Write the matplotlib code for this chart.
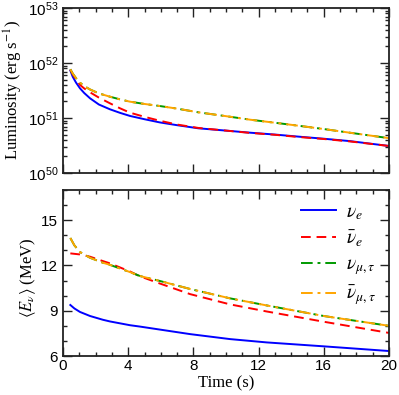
import matplotlib
matplotlib.use("Agg")
import matplotlib.pyplot as plt
from matplotlib.ticker import MultipleLocator, LogLocator, FuncFormatter, NullFormatter
import numpy as np

plt.rcParams['font.family'] = ['Liberation Sans', 'DejaVu Sans']
plt.rcParams['mathtext.fontset'] = 'stix'

# ---------------- data ----------------
# luminosity (units of 1e51 erg/s)
time_lum = [0.45, 0.6, 0.8, 1.04, 1.3, 1.66, 2.2, 2.88, 3.5, 4.11, 5, 5.95, 7, 8.3, 10, 11.5, 13, 14.5, 16, 17.6, 20]
lum_nue = [7.3, 5.6, 4.4, 3.47, 2.85, 2.28, 1.76, 1.44, 1.24, 1.09, 0.95, 0.83, 0.74, 0.65, 0.59, 0.54, 0.50, 0.457, 0.42, 0.38, 0.31]
lum_nuebar = [7.5, 6.2, 5.0, 4.0, 3.45, 2.93, 2.35, 1.85, 1.5, 1.25, 1.05, 0.89, 0.76, 0.66, 0.59, 0.535, 0.495, 0.45, 0.415, 0.375, 0.31]
lum_nux = [7.7, 6.4, 5.3, 4.4, 3.8, 3.3, 2.8, 2.44, 2.18, 1.98, 1.8, 1.65, 1.48, 1.27, 1.08, 0.93, 0.82, 0.72, 0.63, 0.54, 0.43]
lum_nuxbar = [7.7, 6.4, 5.3, 4.4, 3.8, 3.3, 2.8, 2.44, 2.18, 1.98, 1.8, 1.65, 1.48, 1.27, 1.08, 0.93, 0.82, 0.72, 0.63, 0.54, 0.43]

# mean energies (MeV)
time_e = [0.45, 0.7, 1.04, 1.66, 2.45, 2.88, 4.11, 4.72, 5.95, 7.8, 10.25, 12.5, 16, 20]
e_nue = [9.38, 9.15, 8.92, 8.65, 8.4, 8.29, 8.04, 7.95, 7.75, 7.45, 7.12, 6.9, 6.64, 6.33]
e_nuebar = [12.8, 12.77, 12.73, 12.58, 12.29, 12.14, 11.6, 11.28, 10.8, 10.1, 9.42, 8.95, 8.27, 7.53]
e_nux = [13.82, 13.33, 12.89, 12.51, 12.18, 12.04, 11.56, 11.3, 10.97, 10.44, 9.82, 9.35, 8.65, 8.0]
e_nuxbar = [13.82, 13.33, 12.89, 12.51, 12.18, 12.04, 11.56, 11.3, 10.97, 10.44, 9.82, 9.35, 8.65, 8.0]

labels = [r'$\nu_e$', r'$\bar{\nu}_e$', r'$\nu_{\mu,\tau}$', r'$\bar{\nu}_{\mu,\tau}$']
colors = ['#0000ff', '#ff0000', '#009a00', '#ffa500']
styles = ['-', (0, (5, 3)), (0, (6, 2.5, 1.5, 2.5)), (0, (6, 2.5, 1.5, 2.5, 6, 2.5))]

lums = [np.array(v) * 1e51 for v in (lum_nue, lum_nuebar, lum_nux, lum_nuxbar)]
ens = [e_nue, e_nuebar, e_nux, e_nuxbar]

fig = plt.figure(figsize=(3.99, 3.95), dpi=100)
W, H = 399, 395
ax1 = fig.add_axes([63 / W, 1 - 173 / H, 326 / W, 165 / H])
ax2 = fig.add_axes([63 / W, 1 - 356 / H, 326 / W, 166 / H])

for L, E, c, ls, lab in zip(lums, ens, colors, styles, labels):
    ax1.plot(time_lum, L, color=c, ls=ls, lw=1.4)
    ax2.plot(time_e, E, color=c, ls=ls, lw=1.4, label=lab)

serif = ['Liberation Serif', 'DejaVu Serif']

ax1.set_yscale('log')
ax1.set_ylim(1e50, 1e53)
ax1.yaxis.set_major_locator(LogLocator(base=10, numticks=10))
ax1.yaxis.set_minor_locator(LogLocator(base=10, subs=np.arange(2, 10), numticks=10))
ax1.yaxis.set_minor_formatter(NullFormatter())
ax1.yaxis.set_major_formatter(FuncFormatter(lambda v, p: r'$\mathregular{10^{%d}}$' % int(round(np.log10(v)))))
ax1.set_ylabel(r'Luminosity (erg s$^{-1}$)', family=serif, fontsize=12)
ax1.yaxis.set_label_coords(-0.118, 0.5)

ax2.set_ylim(6, 17)
ax2.yaxis.set_major_locator(MultipleLocator(3))
ax2.yaxis.set_minor_locator(MultipleLocator(1))
ax2.set_ylabel(r'$\langle E_\nu\rangle$ (MeV)', family=serif, fontsize=12)
ax2.yaxis.set_label_coords(-0.076, 0.47)
ax2.set_xlabel('Time (s)', family=serif, fontsize=12, labelpad=2)

for ax in (ax1, ax2):
    ax.set_xlim(0, 20)
    ax.xaxis.set_major_locator(MultipleLocator(4))
    ax.xaxis.set_minor_locator(MultipleLocator(1))
    ax.tick_params(which='both', direction='in', top=True, right=True, labelsize=11, width=1.0, color='#222222')
    ax.tick_params(which='major', length=6.5)
    ax.tick_params(which='minor', length=3)
    for s in ax.spines.values():
        s.set_linewidth(1.3)
        s.set_color('#222222')
ax1.tick_params(labelbottom=False)
ax2.tick_params(axis='x', pad=2)

ax2.legend(loc='upper right', frameon=False, fontsize=14, handlelength=1.8,
           labelspacing=0.35, handletextpad=0.5, borderaxespad=0.3,
           bbox_to_anchor=(1.0, 1.0))

fig.savefig('out.png', dpi=100)
